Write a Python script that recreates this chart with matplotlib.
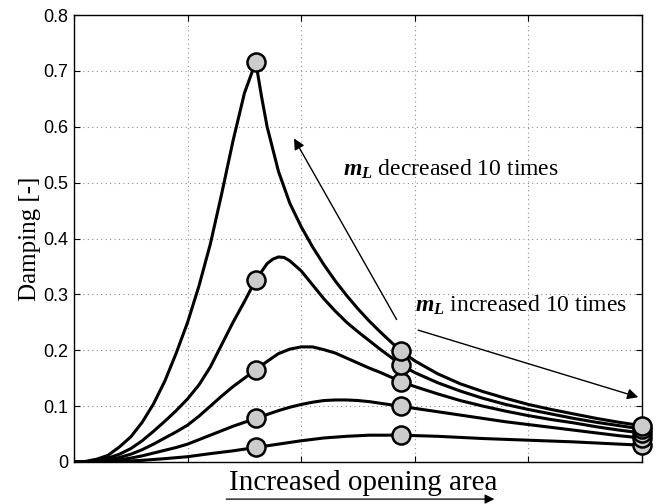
import numpy as np
import matplotlib
matplotlib.use('Agg')
import matplotlib.pyplot as plt

plt.rcParams['mathtext.fontset'] = 'custom'
plt.rcParams['mathtext.it'] = 'Liberation Serif:italic:bold'
plt.rcParams['mathtext.rm'] = 'Liberation Serif:bold'

# curves, top (m_L decreased) to bottom (m_L increased)
x1 = [0, 0.1, 0.2, 0.3, 0.4, 0.5, 0.6, 0.7, 0.8, 0.9, 1.0, 1.1, 1.2, 1.3, 1.4, 1.5, 1.6,
      1.65, 1.7, 1.8, 1.9, 2.0, 2.1, 2.2, 2.3, 2.4, 2.5, 2.6, 2.7, 2.8, 2.876,
      3.0, 3.2, 3.4, 3.6, 3.8, 4.0, 4.2, 4.4, 4.6, 4.8, 5.0]
y1 = [0, 0.001, 0.005, 0.012, 0.027, 0.045, 0.071, 0.104, 0.145, 0.195, 0.25, 0.315, 0.39,
      0.48, 0.575, 0.66, 0.716,
      0.655, 0.6, 0.52, 0.463, 0.421, 0.385, 0.353, 0.324, 0.298, 0.274, 0.252, 0.232, 0.213, 0.199,
      0.181, 0.158, 0.14, 0.126, 0.114, 0.103, 0.094, 0.086, 0.078, 0.071, 0.065]

x2 = [0, 0.1, 0.2, 0.3, 0.4, 0.5, 0.6, 0.7, 0.8, 0.9, 1.0, 1.1, 1.2, 1.3, 1.4, 1.5, 1.6,
      1.7, 1.75, 1.8, 1.85, 1.9, 2.0, 2.1, 2.2, 2.3, 2.4, 2.5, 2.6, 2.7, 2.8, 2.876,
      3.0, 3.2, 3.4, 3.6, 3.8, 4.0, 4.2, 4.4, 4.6, 4.8, 5.0]
y2 = [0, 0.0005, 0.003, 0.007, 0.014, 0.024, 0.038, 0.055, 0.073, 0.092, 0.113, 0.138, 0.17,
      0.21, 0.25, 0.287, 0.326,
      0.355, 0.363, 0.367, 0.366, 0.36, 0.342, 0.317, 0.292, 0.27, 0.25, 0.233, 0.217, 0.201,
      0.186, 0.174,
      0.16, 0.142, 0.127, 0.114, 0.103, 0.094, 0.086, 0.078, 0.071, 0.065, 0.059]

x3 = [0, 0.1, 0.2, 0.3, 0.4, 0.5, 0.6, 0.7, 0.8, 0.9, 1.0, 1.1, 1.2, 1.3, 1.4, 1.5, 1.6,
      1.7, 1.8, 1.9, 2.0, 2.1, 2.2, 2.3, 2.4, 2.5, 2.6, 2.7, 2.8, 2.876,
      3.0, 3.2, 3.4, 3.6, 3.8, 4.0, 4.2, 4.4, 4.6, 4.8, 5.0]
y3 = [0, 0.0003, 0.0015, 0.004, 0.008, 0.014, 0.022, 0.032, 0.043, 0.054, 0.066, 0.082, 0.1,
      0.118, 0.135, 0.15, 0.165,
      0.18, 0.194, 0.202, 0.206, 0.206, 0.201, 0.195, 0.186, 0.177, 0.168, 0.16, 0.151, 0.144,
      0.135, 0.122, 0.11, 0.1, 0.091, 0.083, 0.076, 0.07, 0.063, 0.057, 0.052]

x4 = [0, 0.1, 0.2, 0.3, 0.4, 0.5, 0.6, 0.7, 0.8, 0.9, 1.0, 1.1, 1.2, 1.3, 1.4, 1.5, 1.6,
      1.7, 1.8, 1.9, 2.0, 2.1, 2.2, 2.3, 2.4, 2.5, 2.6, 2.7, 2.8, 2.876,
      3.0, 3.2, 3.4, 3.6, 3.8, 4.0, 4.2, 4.4, 4.6, 4.8, 5.0]
y4 = [0, 0.0001, 0.0007, 0.002, 0.004, 0.007, 0.011, 0.016, 0.021, 0.026, 0.032, 0.04, 0.048,
      0.056, 0.064, 0.071, 0.078,
      0.085, 0.092, 0.098, 0.103, 0.107, 0.11, 0.111, 0.111, 0.11, 0.108, 0.105, 0.102, 0.1,
      0.096, 0.09, 0.084, 0.078, 0.072, 0.067, 0.062, 0.057, 0.052, 0.047, 0.043]

x5 = [0, 0.2, 0.4, 0.6, 0.8, 1.0, 1.2, 1.4, 1.6, 1.8, 2.0, 2.2, 2.4, 2.6, 2.876,
      3.2, 3.6, 4.0, 4.4, 4.8, 5.0]
y5 = [0, 0.0003, 0.001, 0.003, 0.006, 0.0095, 0.015, 0.02, 0.026, 0.032, 0.038, 0.043, 0.046,
      0.048, 0.048, 0.046, 0.042, 0.039, 0.036, 0.032, 0.030]

x_mark = [1.6, 2.876, 5.0]   # where the circles sit
yticks = [0, 0.1, 0.2, 0.3, 0.4, 0.5, 0.6, 0.7, 0.8]
ytick_labels = ['0', '0.1', '0.2', '0.3', '0.4', '0.5', '0.6', '0.7', '0.8']

curves = [(x1, y1), (x2, y2), (x3, y3), (x4, y4), (x5, y5)]

fig = plt.figure(figsize=(6.61, 5.04), dpi=100)
ax = fig.add_axes([74/661, 1-462/504, 568/661, 447/504])

for x, y in curves:
    ax.plot(x, y, color='black', lw=2.2, zorder=3, solid_joinstyle='round')

# circles, bottom curve first so the upper ones sit on top
for i, (x, y) in enumerate(curves[::-1]):
    x = np.array(x)
    y = np.array(y)
    m = np.isin(x, x_mark)
    ax.plot(x[m], y[m], 'o', ms=13, mfc='#cccccc', mec='black', mew=1.8,
            zorder=5 + i, clip_on=False)

ax.set_xlim(0, 5)
ax.set_ylim(0, 0.8)
ax.set_xticks([0, 1, 2, 3, 4, 5])
ax.set_xticklabels([])
ax.set_yticks(yticks)
ax.set_yticklabels(ytick_labels, fontfamily='Liberation Sans', fontsize=13)
ax.tick_params(direction='in', length=4, width=0.8, top=True, right=True, pad=4)
ax.grid(True, linestyle=(0, (1, 3)), color='0.55', lw=0.8)
for s in ax.spines.values():
    s.set_linewidth(1.0)

ax.set_ylabel('Damping [-]', fontfamily='Liberation Serif', fontsize=18, labelpad=2)

ax.text(0.51, -0.047, 'Increased opening area', transform=ax.transAxes,
        ha='center', va='center', fontfamily='Liberation Serif', fontsize=21)
ax.annotate('', xy=(0.74, -0.083), xytext=(0.268, -0.083), xycoords='axes fraction',
            textcoords='axes fraction', annotation_clip=False,
            arrowprops=dict(arrowstyle='-|>', color='black', lw=0.9,
                            mutation_scale=14, shrinkA=0, shrinkB=0))

ax.annotate('', xy=(1.937, 0.579), xytext=(2.84, 0.255),
            arrowprops=dict(arrowstyle='-|>', color='black', lw=1.0,
                            mutation_scale=16, shrinkA=0, shrinkB=0), zorder=4)
ax.annotate('', xy=(4.967, 0.116), xytext=(3.03, 0.236),
            arrowprops=dict(arrowstyle='-|>', color='black', lw=1.0,
                            mutation_scale=16, shrinkA=0, shrinkB=0), zorder=4)

ax.text(2.37, 0.523, r'$m_L$ decreased 10 times', ha='left', va='center',
        fontfamily='Liberation Serif', fontsize=17, zorder=6)
ax.text(3.0, 0.281, r'$m_L$ increased 10 times', ha='left', va='center',
        fontfamily='Liberation Serif', fontsize=17, zorder=6)

fig.savefig('out.png', dpi=100)
